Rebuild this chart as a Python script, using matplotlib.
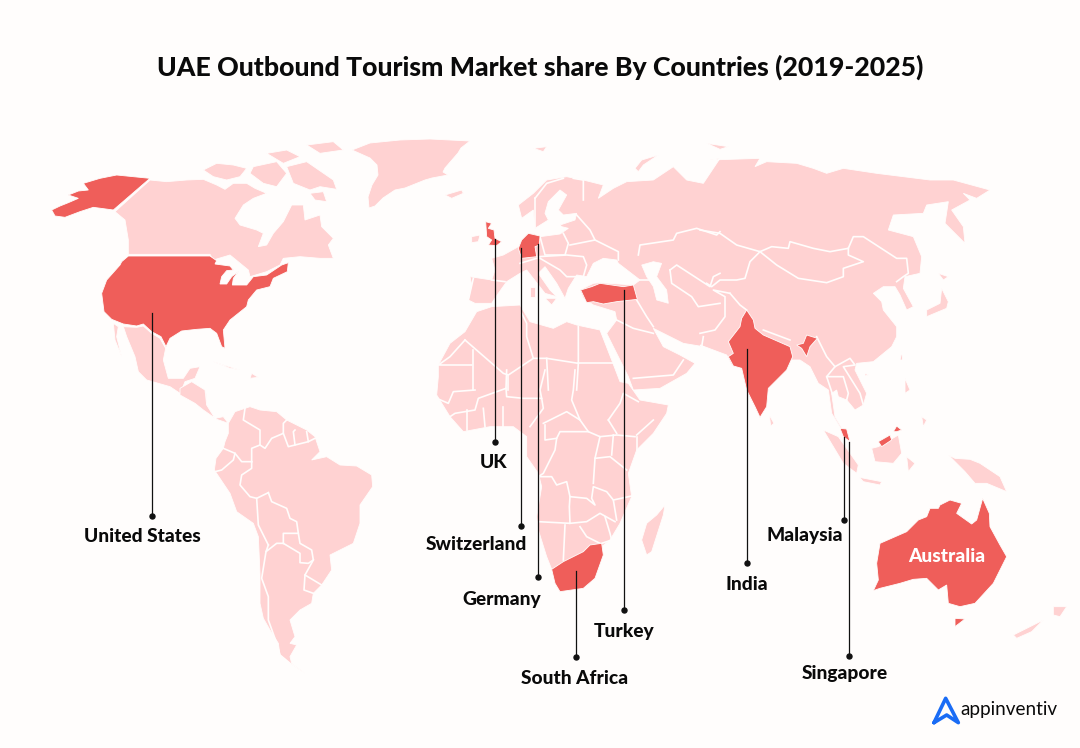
import matplotlib
matplotlib.use('Agg')
import matplotlib.pyplot as plt
from matplotlib.patches import Polygon

BG = '#fffdfc'
LIGHT = '#ffd2d2'
RED = '#ef5e5a'
FONT = 'Lato'


def crop(x0, y0, pts):
    return [(x0 + x / 3, y0 + y / 3) for x, y in pts]


def z1(pts):
    return crop(0, 130, pts)


def z2(pts):
    return crop(180, 380, pts)


def z3(pts):
    return crop(420, 130, pts)


def z4(pts):
    return crop(700, 130, pts)


def z5(pts):
    return crop(420, 370, pts)


def z6(pts):
    return crop(780, 420, pts)


# labels and their leader lines
labels = ['UK', 'Switzerland', 'Germany', 'Turkey', 'South Africa', 'India',
          'Malaysia', 'Singapore', 'United States']
line_x = [495, 521, 538, 624, 576, 747, 844, 849, 152]
line_top = [239, 248, 244, 290, 571, 349, 437, 442, 313]
line_bottom = [442, 526, 577, 610, 657, 563, 520, 656, 516]
label_x = [494, 476, 502, 624, 575, 747, 805, 845, 142]
label_y = [462, 544, 599, 632, 678, 584, 535, 673, 536]

# countries in the highlighted colour
red_shapes = [
    z1([(450, 145), (340, 240), (280, 232), (240, 245), (195, 262), (165, 258), (155, 240), (180, 228),
        (205, 218), (235, 205), (205, 195), (235, 183), (265, 180), (250, 160), (300, 145), (350, 135)]),
    z1([(385, 378), (630, 378), (650, 392), (645, 402), (690, 408), (700, 420), (680, 422), (665, 440),
        (660, 462), (680, 462), (695, 440), (715, 425), (700, 445), (697, 465), (740, 465), (760, 440),
        (800, 435), (845, 405), (865, 398), (862, 425), (820, 445), (810, 470), (770, 480), (745, 510),
        (740, 530), (690, 570), (670, 600), (675, 655), (665, 650), (650, 610), (630, 595), (590, 598),
        (545, 603), (510, 625), (498, 650), (483, 620), (455, 605), (430, 582), (410, 588), (370, 582),
        (335, 568), (312, 545), (305, 490), (320, 450), (360, 405), (365, 395)]),
    z3([(197, 275), (215, 280), (205, 295), (222, 300), (225, 325), (245, 335), (230, 347), (205, 345),
        (215, 330), (200, 320)]),
    z3([(315, 320), (325, 310), (360, 318), (358, 345), (345, 350), (350, 380), (305, 385), (295, 355),
        (305, 330)]),
    z3([(482, 480), (515, 470), (540, 460), (575, 465), (610, 470), (640, 465), (652, 508), (590, 515),
        (550, 522), (520, 515), (500, 518)]),
    z4([(140, 540), (160, 570), (165, 595), (190, 615), (270, 650), (278, 680), (260, 720), (205, 775),
        (200, 830), (180, 862), (165, 830), (140, 780), (125, 715), (100, 708), (85, 680), (100, 670),
        (85, 635), (120, 590), (125, 565)]),
    z4([(290, 645), (310, 640), (320, 615), (352, 625), (330, 650), (320, 680), (305, 655)]),
    z4([(420, 895), (440, 897), (450, 935), (430, 920)]),
    z4([(535, 935), (570, 915), (575, 930), (545, 950)]),
    z4([(580, 905), (590, 888), (605, 900), (590, 905)]),
    z5([(545, 520), (550, 555), (525, 625), (490, 655), (420, 665), (405, 640), (395, 598), (430, 575),
        (470, 555), (490, 545), (510, 525)]),
    z6([(280, 512), (300, 505), (360, 490), (400, 478), (440, 475), (475, 510), (500, 495), (505, 550),
        (540, 560), (585, 550), (640, 490), (680, 410), (660, 375), (630, 320), (628, 280), (608, 235),
        (590, 300), (575, 312), (530, 280), (545, 250), (510, 240), (480, 255), (475, 265), (450, 265),
        (440, 290), (415, 300), (380, 335), (300, 370), (290, 430), (295, 480)]),
    z6([(525, 595), (555, 597), (525, 620)]),
]

# the rest of the land
land_shapes = [
    z1([(450, 150), (500, 155), (560, 150), (610, 148), (650, 165), (675, 178), (700, 160), (740, 160),
        (765, 175), (800, 190), (760, 205), (730, 225), (705, 265), (720, 285), (770, 300), (790, 310),
        (775, 350), (800, 345), (820, 310), (850, 275), (875, 225), (910, 225), (915, 270), (960, 255),
        (965, 290), (1000, 325), (985, 345), (1000, 385), (960, 385), (900, 380), (850, 385), (840, 405),
        (800, 425), (750, 440), (745, 420), (690, 375), (640, 390), (630, 373), (385, 373), (385, 330),
        (375, 270), (345, 245)]),
    z1([(610, 120), (650, 100), (700, 105), (740, 115), (720, 140), (680, 150), (640, 140)]),
    z1([(760, 110), (830, 95), (860, 130), (830, 170), (790, 160), (750, 130)]),
    z1([(860, 110), (920, 95), (1000, 150), (1010, 178), (960, 170), (930, 180), (880, 160)]),
    z1([(920, 45), (1000, 35), (1030, 60), (960, 70)]),
    z1([(800, 70), (860, 60), (900, 80), (850, 100)]),
    z1([(930, 190), (970, 185), (980, 215), (945, 210)]),
    # Greenland, Iceland
    [(352, 150), (370, 143), (400, 140), (430, 139), (470, 141), (461, 148), (458, 153), (445, 168),
     (443, 172), (448, 175), (432, 178), (425, 180), (420, 182), (405, 188), (395, 190), (383, 198),
     (375, 206), (369, 208), (368, 197), (372, 185), (378, 175), (377, 165), (370, 158)],
    z3([(75, 195), (125, 180), (130, 190), (95, 205)]),
    # Mexico and Central America
    z1([(370, 590), (410, 592), (430, 588), (455, 610), (480, 625), (497, 655), (490, 690), (505, 745),
        (550, 745), (570, 715), (600, 710), (585, 745), (555, 755), (545, 780), (590, 790), (620, 790),
        (615, 830), (600, 830), (575, 800), (540, 790), (510, 770), (440, 750), (415, 725), (405, 680),
        (380, 620)]),
    z1([(340, 580), (355, 590), (350, 620), (365, 680), (345, 630)]),
    z2([(0, 25), (35, 5), (75, 30), (80, 75), (105, 115), (130, 110), (145, 130), (110, 118), (70, 90),
        (45, 70), (0, 45)]),
    z1([(640, 695), (720, 720), (690, 715)]),
    z1([(755, 730), (775, 742), (750, 745)]),
    # South America
    z2([(145, 130), (165, 95), (210, 80), (240, 90), (290, 95), (320, 120), (380, 150), (405, 170),
        (420, 215), (395, 240), (440, 230), (480, 255), (530, 258), (575, 285), (578, 320), (540, 375),
        (540, 430), (520, 490), (450, 525), (455, 570), (425, 615), (400, 640), (395, 670), (360, 690),
        (350, 700), (330, 720), (345, 770), (330, 790), (350, 795), (330, 830), (335, 850), (375, 880),
        (330, 850), (300, 825), (295, 790), (270, 750), (250, 715), (240, 670), (240, 580), (235, 470),
        (220, 430), (170, 395), (150, 340), (103, 270), (108, 235), (130, 205), (135, 185), (145, 160)]),
    # Africa
    z3([(55, 705), (90, 640), (135, 605), (170, 545), (215, 530), (300, 525), (330, 575), (400, 595),
        (440, 575), (470, 585), (540, 600), (575, 690), (600, 755)])
    + z5([(625, 40), (660, 90), (745, 105), (740, 130), (700, 190), (650, 240), (625, 310), (635, 380),
          (600, 460), (570, 510), (545, 530), (545, 560), (525, 625), (490, 655), (420, 665), (405, 640),
          (395, 598), (380, 560), (355, 480), (350, 440), (365, 350), (355, 310), (320, 260), (320, 200),
          (280, 170), (210, 170), (130, 185), (90, 140), (50, 75), (55, 20)]),
    z5([(735, 405), (730, 435), (695, 545), (680, 555), (665, 510), (680, 460), (710, 435)]),
    # Eurasia
    z3([(215, 385), (250, 375), (295, 350), (320, 315), (340, 310), (360, 320), (420, 312), (445, 295),
        (425, 290), (420, 285), (465, 270), (470, 250), (430, 255), (415, 240), (440, 195), (420, 180),
        (385, 215), (375, 250), (385, 270), (345, 295), (340, 240), (305, 265), (295, 225), (340, 190),
        (380, 150), (440, 140), (490, 150), (550, 165), (535, 205), (580, 175), (620, 155), (700, 150),
        (745, 120), (760, 110), (800, 150), (850, 160), (870, 130), (900, 85)])
    + z4([(30, 90), (180, 85), (165, 110), (200, 95), (290, 100), (340, 115), (380, 130), (430, 115),
          (530, 130), (690, 150), (760, 150), (870, 180), (830, 205), (790, 190), (810, 210), (755, 240),
          (790, 290), (795, 340), (735, 280), (745, 215), (680, 225), (670, 250), (580, 255),
          (565, 300), (640, 320), (665, 380), (660, 430), (615, 440), (610, 475), (640, 530), (620, 540),
          (600, 495), (585, 470), (550, 470), (520, 490), (545, 515), (550, 540), (590, 590), (590, 620),
          (575, 650), (520, 695), (470, 700), (465, 720), (500, 790), (490, 825), (465, 840), (440, 810),
          (415, 800), (410, 780), (395, 790), (405, 860), (450, 935), (425, 900), (395, 850), (385, 780),
          (355, 760), (330, 710), (300, 690), (270, 690), (275, 670), (260, 720), (205, 775), (200, 830),
          (180, 862), (140, 780), (125, 715), (95, 705), (80, 675), (0, 645)])
    + z3([(850, 650), (790, 640), (760, 625), (700, 595), (730, 650), (780, 675), (825, 700), (800, 730),
          (720, 775), (640, 780), (625, 740), (585, 660), (560, 610), (590, 570), (585, 545), (520, 525),
          (490, 505), (480, 480), (520, 460), (540, 458), (640, 465), (660, 450), (595, 400), (590, 390),
          (550, 385), (520, 400), (500, 440), (470, 435), (445, 475), (435, 505), (410, 460), (375, 410),
          (355, 430), (390, 480), (410, 500), (375, 490), (320, 420), (300, 430), (260, 455), (235, 490),
          (215, 520), (165, 520), (145, 510), (155, 465), (150, 440), (215, 450), (225, 420)]),
    z3([(155, 320), (180, 315), (175, 335), (155, 338)]),
    z3([(330, 470), (345, 470), (345, 500), (330, 500)]),
    z3([(375, 505), (410, 505), (395, 525)]),
    # Arctic islands
    z3([(645, 115), (665, 90), (715, 75), (670, 105), (655, 125)]),
    z3([(340, 55), (380, 50), (370, 65)]),
    z4([(20, 40), (85, 50), (60, 58)]),
    # Asia islands
    z4([(208, 855), (222, 880), (212, 888)]),
    z4([(605, 665), (608, 690), (600, 690)]),
    z4([(725, 475), (745, 515), (740, 535), (680, 560), (680, 540), (720, 520)]),
    z4([(715, 430), (745, 440), (730, 450)]),
    z4([(495, 730), (505, 735), (495, 738)]),
    z4([(615, 745), (630, 780), (615, 790)]),
    z4([(665, 860), (680, 870), (670, 890)]),
    # Indonesia, New Guinea, New Zealand
    z6([(130, 30), (175, 50), (235, 135), (230, 160), (190, 130)]),
    z6([(238, 172), (305, 185), (300, 195), (250, 185)]),
    z6([(275, 85), (295, 80), (355, 45), (365, 100), (340, 130), (285, 125)]),
    z6([(380, 110), (405, 130), (385, 155)]),
    z6([(505, 105), (525, 115), (570, 118), (600, 130), (660, 170), (680, 215), (620, 190), (585, 190),
        (555, 155)]),
    z6([(820, 560), (860, 560), (840, 590), (820, 585)]),
    z6([(700, 645), (790, 600), (755, 635), (710, 655)]),
]

caspian = z3([(665, 405), (700, 395), (725, 400), (710, 440), (740, 480), (745, 520), (710, 510), (700, 470),
              (680, 440)])

# white country borders
border_lines = [
    # South America
    z2([(195, 85), (190, 120), (240, 150), (240, 195), (215, 205), (215, 245)]),
    z2([(240, 195), (255, 205), (275, 175), (310, 160), (310, 130), (320, 120)]),
    z2([(310, 160), (325, 200), (345, 195), (340, 155), (345, 150)]),
    z2([(345, 195), (385, 185), (380, 155)]),
    z2([(385, 185), (405, 175)]),
    z2([(130, 205), (165, 220), (185, 245), (215, 245)]),
    z2([(165, 220), (160, 240), (125, 270), (105, 275)]),
    z2([(215, 245), (215, 265), (185, 285), (180, 315), (210, 350), (230, 355), (265, 338)]),
    z2([(230, 355), (235, 435), (265, 495)]),
    z2([(265, 338), (275, 365), (320, 385), (330, 415), (350, 425), (355, 460), (310, 460), (310, 490)]),
    z2([(265, 495), (258, 515), (290, 490), (310, 490)]),
    z2([(355, 460), (360, 490), (395, 510), (400, 540), (385, 550), (360, 548), (360, 520), (310, 490)]),
    z2([(258, 515), (245, 595), (265, 650), (265, 720), (290, 790), (300, 825), (330, 850)]),
    z2([(400, 540), (375, 585), (372, 630), (400, 640)]),
    z2([(375, 585), (425, 615)]),
    # north Africa
    z3([(135, 630), (90, 680), (55, 705), (155, 705)]),
    z3([(160, 660), (160, 780)]),
    z3([(135, 630), (250, 730), (265, 735), (340, 685), (320, 620), (320, 580), (305, 550)]),
    z3([(340, 685), (380, 685), (475, 700), (475, 590)]),
    z3([(475, 700), (580, 700)]),
    z3([(380, 685), (385, 780)]),
    z3([(265, 735), (265, 780)]),
    z3([(475, 700), (470, 780)]),
    # rest of Africa
    z5([(165, 60), (100, 65), (85, 100), (50, 85)]),
    z5([(260, 0), (258, 55), (175, 85), (165, 120), (105, 130), (90, 140)]),
    z5([(258, 55), (260, 80), (310, 85), (365, 85), (370, 115), (330, 170)]),
    z5([(140, 120), (140, 180)]),
    z5([(190, 115), (195, 170)]),
    z5([(250, 110), (250, 170)]),
    z5([(375, 0), (360, 60), (365, 85)]),
    z5([(465, 0), (460, 60), (455, 90), (480, 150), (505, 185), (540, 200), (590, 195), (645, 200)]),
    z5([(370, 160), (440, 125), (480, 150)]),
    z5([(375, 165), (375, 210), (410, 205), (420, 185), (505, 185)]),
    z5([(410, 205), (405, 240), (370, 310), (355, 320)]),
    z5([(540, 200), (525, 265), (520, 340)]),
    z5([(525, 265), (570, 260), (620, 300)]),
    z5([(580, 195), (575, 255)]),
    z5([(650, 200), (650, 240)]),
    z5([(565, 150), (600, 100), (610, 70), (655, 95)]),
    z5([(700, 150), (650, 195)]),
    z5([(565, 150), (590, 190)]),
    z5([(355, 320), (395, 320), (410, 345), (440, 335), (450, 380), (500, 385), (525, 405), (515, 385),
        (520, 350), (560, 365), (580, 390), (635, 378)]),
    z5([(450, 380), (448, 410), (450, 460), (355, 455)]),
    z5([(450, 460), (500, 455), (540, 430), (585, 455)]),
    z5([(435, 465), (430, 570)]),
    z5([(480, 470), (500, 500), (540, 520)]),
    z5([(555, 440), (570, 490), (575, 510), (545, 520)]),
    z5([(580, 390), (590, 450)]),
    # Asia
    z4([(0, 300), (60, 310), (110, 345), (180, 365), (215, 350), (265, 355), (270, 335), (340, 355),
        (390, 365), (445, 355), (460, 320), (490, 320), (590, 385), (620, 385), (625, 430), (610, 440),
        (590, 455)]),
    z4([(180, 365), (230, 405), (295, 445), (380, 458), (430, 440), (430, 415), (490, 395), (445, 375),
        (445, 355)]),
    z4([(180, 365), (150, 395), (135, 445), (110, 450), (60, 450), (35, 470), (20, 460)]),
    z4([(90, 490), (120, 525), (140, 540)]),
    z4([(190, 600), (270, 630)]),
    z4([(350, 620), (380, 680), (405, 710), (380, 740), (400, 800)]),
    z4([(405, 710), (450, 685), (465, 705), (430, 710), (480, 790), (490, 825)]),
    z4([(380, 740), (430, 740), (445, 790), (440, 810)]),
    z4([(90, 490), (40, 480), (75, 500), (75, 560), (45, 600), (0, 610)]),
    z4([(10, 620), (5, 650)]),
    z3([(655, 375), (660, 345), (760, 330), (770, 310), (830, 295), (890, 315), (900, 305)]),
    z3([(640, 450), (690, 450), (725, 470)]),
    z3([(750, 420), (770, 405), (870, 470), (880, 440), (900, 430)]),
    z3([(750, 420), (755, 460), (815, 500), (835, 530), (900, 520)]),
    z3([(650, 510), (680, 560), (700, 590)]),
    z3([(590, 570), (640, 595), (700, 610)]),
    z3([(790, 690), (760, 735), (640, 745)]),
    # Europe
    z3([(490, 210), (490, 150), (460, 145)]),
    z3([(345, 205), (345, 290)]),
    z3([(345, 205), (380, 160), (430, 145)]),
    z3([(470, 255), (510, 300), (525, 330), (450, 345)]),
    z3([(525, 330), (595, 365), (595, 390)]),
    z3([(360, 320), (375, 375), (435, 375), (445, 340), (430, 310)]),
    z3([(355, 380), (440, 375), (490, 380), (500, 405), (490, 440), (440, 440), (420, 420), (360, 385)]),
    z3([(160, 445), (145, 510)]),
    z3([(215, 450), (255, 455)]),
    z3([(300, 400), (350, 385)]),
]

logo_mark = z6([(462, 908), (497, 835), (535, 908), (500, 885), (462, 908)])

fig = plt.figure(figsize=(10.8, 7.48), dpi=100, facecolor=BG)
ax = fig.add_axes([0, 0, 1, 1])
ax.set_xlim(0, 1080)
ax.set_ylim(748, 0)
ax.axis('off')

for shape in land_shapes:
    ax.add_patch(Polygon(shape, closed=True, fc=LIGHT, ec=BG, lw=0.6, zorder=1))
ax.add_patch(Polygon(caspian, closed=True, fc=BG, ec=BG, lw=0.5, zorder=2))
for border in border_lines:
    xs, ys = zip(*border)
    ax.plot(xs, ys, color=BG, lw=1.2, solid_joinstyle='round', zorder=2)
for shape in red_shapes:
    ax.add_patch(Polygon(shape, closed=True, fc=RED, ec=BG, lw=0.6, zorder=3))

for name, lx, top, bottom, tx, ty in zip(labels, line_x, line_top, line_bottom, label_x, label_y):
    ax.plot([lx, lx], [top, bottom], color='#111111', lw=0.9, zorder=4)
    ax.plot([lx], [bottom], 'o', color='#111111', ms=3.6, zorder=4)
    ax.text(tx, ty, name, ha='center', va='center', fontsize=13.8, fontweight=900, family=FONT,
            color='#0a0a0a', zorder=5)

ax.text(947, 556, 'Australia', ha='center', va='center', fontsize=13.8, fontweight=900, family=FONT,
        color='white', zorder=5)
ax.text(540, 67, 'UAE Outbound Tourism Market share By Countries (2019-2025)', ha='center', va='center',
        fontsize=19.2, fontweight=900, family=FONT, color='#0a0a0a')

xs, ys = zip(*logo_mark)
ax.plot(xs, ys, color='#1a6cf5', lw=2.6, solid_joinstyle='round', solid_capstyle='round', zorder=5)
ax.text(960, 710, 'appinventiv', ha='left', va='center', fontsize=13.6, family=FONT, color='#0a0a0a')

fig.savefig('out.png', dpi=100, facecolor=BG)
